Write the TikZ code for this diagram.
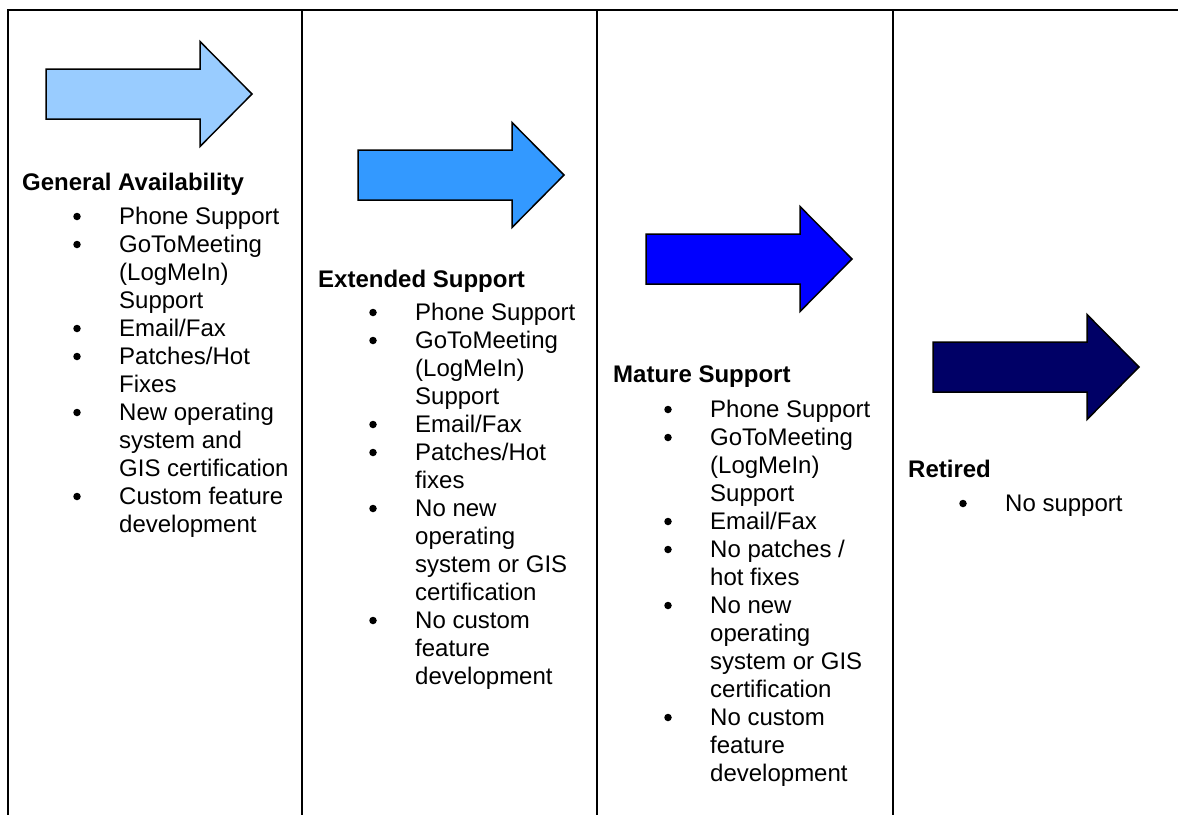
\documentclass[tikz,border=0pt]{standalone}
\usepackage{fontspec}
\setmainfont{Liberation Sans}
\definecolor{arrA}{HTML}{99CCFF}
\definecolor{arrB}{HTML}{3399FF}
\definecolor{arrC}{HTML}{0000FF}
\definecolor{arrD}{HTML}{000066}
\tikzset{
  hd/.style={anchor=base west, inner sep=0pt, font=\bfseries\fontsize{24}{28}\selectfont},
  it/.style={anchor=base west, inner sep=0pt, font=\fontsize{24}{28}\selectfont},
  bul/.style={circle, fill=black, inner sep=0pt, minimum size=7.5pt},
  gridline/.style={line width=1.8pt, line cap=rect},
  arrowshape/.style={draw=black, line width=1.5pt, line join=miter}
}
\newcommand{\Bitem}[4]{%
  \node[bul] (#1-b) at (#2-42, #3-7.5) {};
  \foreach \ln [count=\k from 0] in {#4} {
    \node[it] (#1-\k) at (#2, #3+28*\k) {\ln};
  }%
}
\newcommand{\Farrow}[4]{% left x, center y, colour, name
  \draw[arrowshape, fill=#3] (#1, #2-25) -- (#1+154, #2-25) -- (#1+154, #2-52.5)
    -- (#1+206, #2) -- (#1+154, #2+52.5) -- (#1+154, #2+25) -- (#1, #2+25) -- cycle;
}
\begin{document}
\begin{tikzpicture}[x=1pt, y=-1pt]
\useasboundingbox (0,0) rectangle (1178,814);
% table lines
\draw[gridline] (8,10) -- (1178,10);
\foreach \cx in {8,302,597,893} {
  \draw[gridline] (\cx,10) -- (\cx,814);
}
% arrows
\Farrow{46}{94}{arrA}{a1}
\Farrow{358}{175}{arrB}{a2}
\Farrow{646}{259}{arrC}{a3}
\Farrow{933}{367}{arrD}{a4}
% column 1
\node[hd] (h1) at (22,190) {General Availability};
\Bitem{c1a}{119}{224}{Phone Support}
\Bitem{c1b}{119}{252}{GoToMeeting,(LogMeIn),Support}
\Bitem{c1c}{119}{336}{Email/Fax}
\Bitem{c1d}{119}{364}{{Patches/Hot},Fixes}
\Bitem{c1e}{119}{420}{New operating,system and,GIS certification}
\Bitem{c1f}{119}{504}{Custom feature,development}
% column 2
\node[hd] (h2) at (318,287) {Extended Support};
\Bitem{c2a}{415}{320}{Phone Support}
\Bitem{c2b}{415}{348}{GoToMeeting,(LogMeIn),Support}
\Bitem{c2c}{415}{432}{Email/Fax}
\Bitem{c2d}{415}{460}{{Patches/Hot},fixes}
\Bitem{c2e}{415}{516}{No new,operating,system or GIS,certification}
\Bitem{c2f}{415}{628}{No custom,feature,development}
% column 3
\node[hd] (h3) at (613,382) {Mature Support};
\Bitem{c3a}{710}{417}{Phone Support}
\Bitem{c3b}{710}{445}{GoToMeeting,(LogMeIn),Support}
\Bitem{c3c}{710}{529}{Email/Fax}
\Bitem{c3d}{710}{557}{{No patches /},hot fixes}
\Bitem{c3e}{710}{613}{No new,operating,system or GIS,certification}
\Bitem{c3f}{710}{725}{No custom,feature,development}
% column 4
\node[hd] (h4) at (908,477) {Retired};
\Bitem{c4a}{1005}{511}{No support}
\end{tikzpicture}
\end{document}
